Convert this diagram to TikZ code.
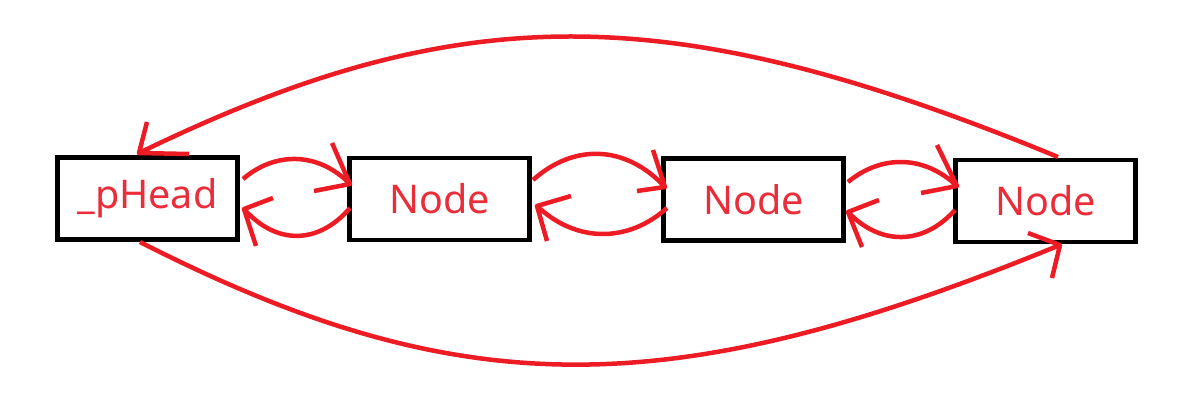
\documentclass[tikz,border=0pt]{standalone}
\usepackage{fontspec}
\setmainfont{Noto Sans}
\definecolor{pen}{RGB}{237,28,36}
\definecolor{txt}{RGB}{235,45,58}
\begin{document}
\begin{tikzpicture}[x=0.02cm,y=-0.02cm,
  box/.style={draw=black,line width=0.09cm,minimum width=3.61cm,minimum height=1.65cm,inner sep=0pt,text=txt,font=\fontsize{22.5}{26}\selectfont},
  link/.style={draw=pen,line width=0.09cm,line join=round}]
\useasboundingbox (0,0) rectangle (1204,409);
\fill[white] (0,0) rectangle (1204,409);
\node[box] (b1) at (147.5,198.5) {\_pHead};
\node[box] (b2) at (439.5,199) {Node};
\node[box] (b3) at (753.5,199.5) {Node};
\node[box] (b4) at (1045.5,201) {Node};
% big top arc: b4 -> b1
\coordinate (ts) at (1058,157);
\coordinate (tt) at (139,153);
\coordinate (tb1) at (147,122);
\coordinate (tb2) at (189,154);
\draw[link] (ts) .. controls (670,-3) and (460,-3) .. (tt) (tb1) -- (tt) -- (tb2);
% big bottom arc: b1 -> b4
\coordinate (bs) at (140,242);
\coordinate (bt) at (1060,245);
\coordinate (bb1) at (1028,233);
\coordinate (bb2) at (1052,278);
\draw[link] (bs) .. controls (460,405) and (670,405) .. (bt) (bb1) -- (bt) -- (bb2);
% b1 -> b2
\coordinate (a1s) at (243,179); \coordinate (a1t) at (350,184);
\coordinate (a1p) at (332,143); \coordinate (a1q) at (314,191);
\draw[link] (a1s) .. controls (275,151.5) and (318,151.5) .. (a1t) (a1p) -- (a1t) -- (a1q);
% b2 -> b1
\coordinate (a2s) at (350,208); \coordinate (a2t) at (244,209);
\coordinate (a2p) at (273,198); \coordinate (a2q) at (256,246);
\draw[link] (a2s) .. controls (318,245) and (276,245) .. (a2t) (a2p) -- (a2t) -- (a2q);
% b2 -> b3
\coordinate (a3s) at (533,180); \coordinate (a3t) at (665,187);
\coordinate (a3p) at (653,150); \coordinate (a3q) at (637,191);
\draw[link] (a3s) .. controls (573,144) and (625,144) .. (a3t) (a3p) -- (a3t) -- (a3q);
% b3 -> b2
\coordinate (a4s) at (667,208); \coordinate (a4t) at (537,206);
\coordinate (a4p) at (571,196); \coordinate (a4q) at (547,241);
\draw[link] (a4s) .. controls (628,243) and (576,243) .. (a4t) (a4p) -- (a4t) -- (a4q);
% b3 -> b4
\coordinate (a5s) at (848,182); \coordinate (a5t) at (957,186);
\coordinate (a5p) at (937,145); \coordinate (a5q) at (921,193);
\draw[link] (a5s) .. controls (881,154.7) and (924,154.7) .. (a5t) (a5p) -- (a5t) -- (a5q);
% b4 -> b3
\coordinate (a6s) at (955,210); \coordinate (a6t) at (848,212);
\coordinate (a6p) at (879,200); \coordinate (a6q) at (862,247);
\draw[link] (a6s) .. controls (923,245.7) and (880,245.7) .. (a6t) (a6p) -- (a6t) -- (a6q);
\end{tikzpicture}
\end{document}
